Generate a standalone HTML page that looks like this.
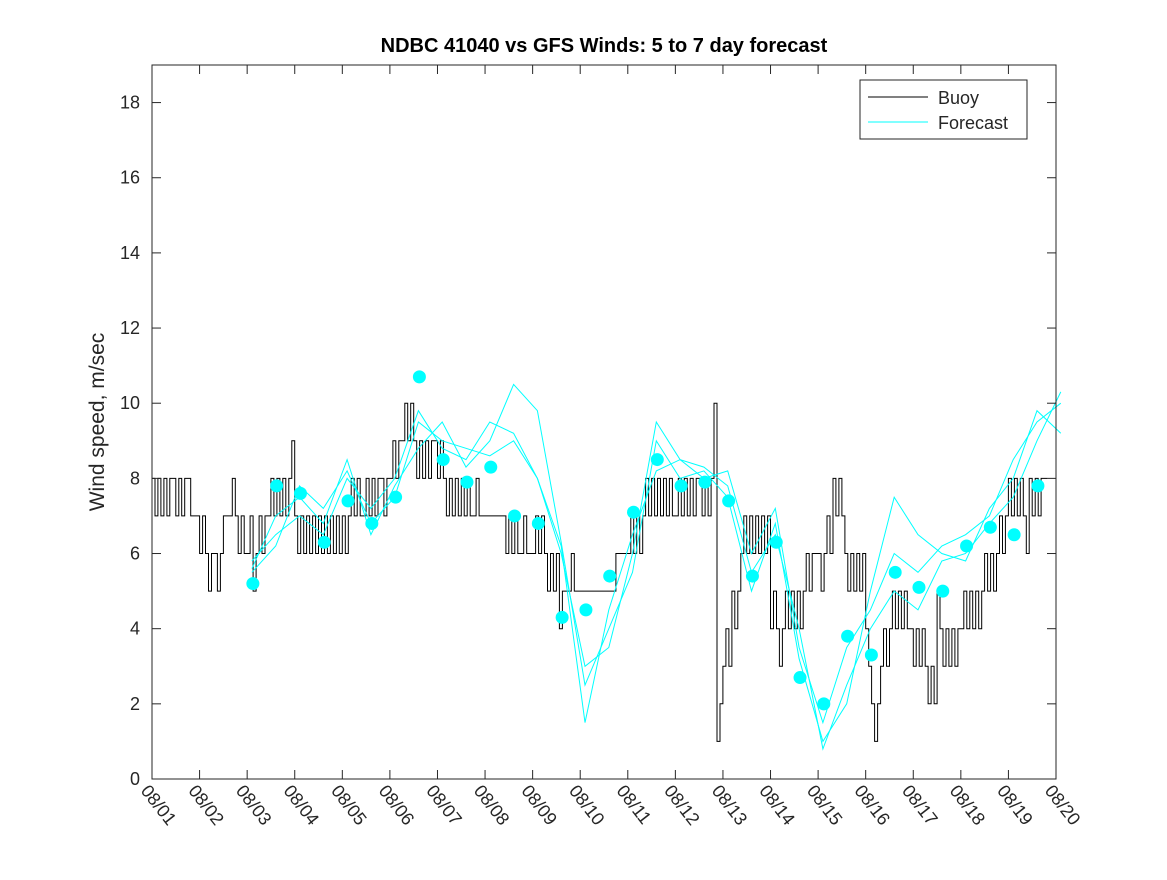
<!DOCTYPE html>
<html><head><meta charset="utf-8">
<style>
html,body{margin:0;padding:0;background:#fff;}
svg text{font-family:"Liberation Sans","DejaVu Sans",sans-serif;fill:#262626;}
</style></head>
<body>
<svg id="chart" width="1167" height="875" xmlns="http://www.w3.org/2000/svg">
<rect width="1167" height="875" fill="#fff"/>
<text x="604" y="52" text-anchor="middle" font-size="20" font-weight="bold" style="fill:#000">NDBC 41040 vs GFS Winds: 5 to 7 day forecast</text>
<text transform="translate(104,422) rotate(-90)" text-anchor="middle" font-size="21">Wind speed, m/sec</text>
<g id="plot"></g>
<g>
<rect x="860" y="80" width="167" height="59" fill="#fff" stroke="#262626" stroke-width="1"/>
<line x1="868" y1="97" x2="928" y2="97" stroke="#000" stroke-width="1"/>
<text x="938" y="104" font-size="18">Buoy</text>
<line x1="868" y1="122" x2="928" y2="122" stroke="#00ffff" stroke-width="1"/>
<text x="938" y="129" font-size="18">Forecast</text>
</g>
</svg>
<script>
const xTickLabels=["08/01","08/02","08/03","08/04","08/05","08/06","08/07","08/08","08/09","08/10","08/11","08/12","08/13","08/14","08/15","08/16","08/17","08/18","08/19","08/20"];
const yTicks=[0,2,4,6,8,10,12,14,16,18];
const buoyStart=0, buoyStep=1/16;
const buoy=[8,7,8,7,8,7,8,8,7,8,7,8,8,7,7,7,
6,7,6,5,6,6,5,6,7,7,7,8,7,6,7,6,
6,7,5,6,7,6,7,7,8,7,8,7,8,7,8,9,
7,6,7,6,7,6,7,6,7,6,7,6,7,6,7,6,
7,6,7,8,7,8,7,7,8,7,8,7,8,8,7,8,
8,9,8,9,9,10,9,10,9,8,9,8,9,8,9,9,
8,9,8,7,8,7,8,7,8,7,8,7,7,8,7,7,
7,7,7,7,7,7,7,6,7,6,7,6,6,7,6,6,
6,7,6,7,6,5,6,5,6,4,5,5,5,6,5,5,
5,5,5,5,5,5,5,5,5,5,5,5,6,6,6,6,
6,7,6,7,6,7,8,7,8,7,8,7,8,7,8,7,
7,8,7,8,7,8,7,8,8,7,8,7,8,10,1,2,
3,4,3,5,4,5,6,7,6,7,6,7,6,7,6,7,
4,5,4,3,4,5,4,5,4,5,4,5,6,5,6,6,
6,5,6,7,6,8,7,8,7,6,5,6,5,6,5,6,
4,3,2,1,2,3,4,3,4,5,4,5,4,5,4,4,
3,4,3,4,3,2,3,2,5,4,3,4,3,4,3,4,
4,5,4,5,4,5,4,5,6,5,6,5,6,7,6,7,
8,7,8,7,8,7,6,8,7,8,7,8,8];
const fcStart=2.1, fcStep=0.5;
const fc1=[5.5,6.2,7.8,7.2,8.2,6.8,7.5,9.5,9.0,8.8,8.6,9.0,8.0,6.0,3.0,3.5,6.0,9.5,8.5,8.0,8.2,6.0,7.2,3.5,1.5,3.5,4.5,6.0,5.5,6.2,6.5,7.0,8.5,9.5,10.0];
const fc2=[5.8,6.5,7.0,6.5,8.0,7.2,8.0,9.8,8.8,8.5,9.5,9.2,8.0,6.2,1.5,4.5,6.5,8.2,8.5,8.3,7.8,5.5,6.5,4.0,0.8,2.5,4.0,5.0,4.5,5.8,6.0,6.8,7.5,9.0,10.3];
const fc3=[5.6,7.0,7.5,6.8,8.5,6.5,7.8,8.8,9.5,8.3,9.0,10.5,9.8,6.3,2.5,4.0,5.5,9.0,8.0,8.2,7.5,5.0,6.8,3.2,1.0,2.0,5.0,7.5,6.5,6.0,5.8,7.2,8.0,9.8,9.2];
const dotStart=2.12, dotStep=0.5;
const dots=[5.2,7.8,7.6,6.3,7.4,6.8,7.5,10.7,8.5,7.9,8.3,7.0,6.8,4.3,4.5,5.4,7.1,8.5,7.8,7.9,7.4,5.4,6.3,2.7,2.0,3.8,3.3,5.5,5.1,5.0,6.2,6.7,6.5,7.8];

const L=152,R=1056,T=65,B=779,XMAX=19,YMAX=19;
const xs=d=>L+d/XMAX*(R-L);
const ys=v=>B-v/YMAX*(B-T);
const NS="http://www.w3.org/2000/svg";
const g=document.getElementById('plot');
function mk(tag,attrs){const e=document.createElementNS(NS,tag);for(const k in attrs)e.setAttribute(k,attrs[k]);g.appendChild(e);return e;}

let d="";
buoy.forEach((v,i)=>{const x0=xs(buoyStart+i*buoyStep),x1=xs(buoyStart+(i+1)*buoyStep);d+=(i?"L":"M")+x0.toFixed(1)+","+ys(v).toFixed(1)+"L"+x1.toFixed(1)+","+ys(v).toFixed(1);});
const bl=mk('path',{d:d,fill:"none",stroke:"#000","stroke-width":1});



[fc1,fc2,fc3].forEach((arr,k)=>{
  const p=arr.map((v,i)=>(i?"L":"M")+xs(fcStart+i*fcStep).toFixed(1)+","+ys(v).toFixed(1)).join("");
  const e=mk('path',{d:p,fill:"none",stroke:"#00ffff","stroke-width":1});
  
  
});
dots.forEach((v,i)=>{
  const c=mk('circle',{cx:xs(dotStart+i*dotStep),cy:ys(v),r:6.5,fill:"#00ffff"});
  
  
});

const box=mk('rect',{x:L,y:T,width:R-L,height:B-T,fill:"none",stroke:"#262626","stroke-width":1});


yTicks.forEach(v=>{
  const y=ys(v);
  mk('line',{x1:L,y1:y,x2:L+9,y2:y,stroke:"#262626"});
  mk('line',{x1:R,y1:y,x2:R-9,y2:y,stroke:"#262626"});
  const t=mk('text',{x:L-12,y:y+6,"text-anchor":"end","font-size":18});
  t.textContent=v;
  
  
});
xTickLabels.forEach((s,i)=>{
  const x=xs(i);
  mk('line',{x1:x,y1:B,x2:x,y2:B-9,stroke:"#262626"});
  mk('line',{x1:x,y1:T,x2:x,y2:T+9,stroke:"#262626"});
  const t=mk('text',{x:0,y:0,"font-size":18,transform:"translate("+(x-12)+","+(B+12)+") rotate(52)"});
  t.textContent=s;
  
  
});
</script>
</body></html>
